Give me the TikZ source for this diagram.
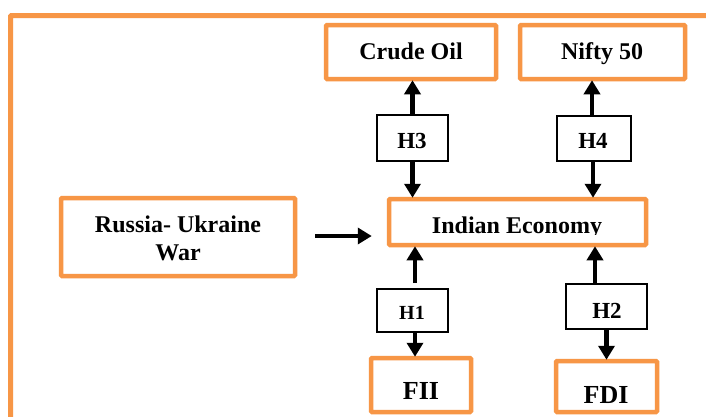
\documentclass[tikz,border=0pt]{standalone}
\usepackage{fontspec}
\setmainfont{Liberation Serif}
\usetikzlibrary{arrows.meta,calc}
\definecolor{orng}{HTML}{F79646}
\begin{document}
\begin{tikzpicture}[x=1pt,y=-1pt,
  obox/.style={draw=orng, line width=4.5pt, rectangle, inner sep=0pt, rounded corners=1pt},
  hbox/.style={draw=black, line width=1.6pt, rectangle, inner sep=0pt},
  lbl/.style={font=\bfseries\fontsize{24}{28}\selectfont, inner sep=0pt, anchor=base},
  hlbl/.style={font=\bfseries\fontsize{23}{27}\selectfont, inner sep=0pt, anchor=base},
  arr/.style={line width=4.5pt, -{Triangle[width=16pt,length=14pt]}}]
\useasboundingbox (0,0) rectangle (706,416);
\clip (0,0) rectangle (706,416);
\fill[white] (0,0) rectangle (706,416);
% outer frame
\draw[orng, line width=5pt, rounded corners=1pt] (10.5,440) -- (10.5,15.5) -- (730,15.5);
% boxes
\node[obox, minimum width=170pt, minimum height=54pt] (crude) at (411,52) {};
\node[obox, minimum width=165pt, minimum height=54pt] (nifty) at (602.5,52) {};
\node[hbox, minimum width=71pt, minimum height=46pt] (h3) at (412.5,138) {};
\node[hbox, minimum width=74pt, minimum height=45pt] (h4) at (594,138.5) {};
\node[obox, minimum width=257pt, minimum height=46pt] (ie) at (517.5,222) {};
\node[obox, minimum width=234pt, minimum height=78pt] (russia) at (178,237) {};
\node[hbox, minimum width=71pt, minimum height=43pt] (h1) at (412.5,310.5) {};
\node[hbox, minimum width=81pt, minimum height=45pt] (h2) at (606.5,306.5) {};
\node[obox, minimum width=100pt, minimum height=54pt] (fii) at (421,385) {};
\node[obox, minimum width=101pt, minimum height=51pt] (fdi) at (606.5,386.5) {};
% labels
\node[lbl] (crudeT) at (411,59) {Crude Oil};
\node[lbl] (niftyT) at (602,59) {Nifty 50};
\node[hlbl] (h3T) at (412,148) {H3};
\node[hlbl] (h4T) at (593,148) {H4};
\begin{scope}
\clip (395,200) rectangle (640,234.5);
\node[lbl] (ieT) at (517,233) {Indian Economy};
\end{scope}
\node[font=\bfseries\fontsize{24}{28}\selectfont, inner sep=0pt, align=center] (russiaT) at (178,238) {Russia- Ukraine\\War};
\node[font=\bfseries\fontsize{20}{24}\selectfont, inner sep=0pt, anchor=base] (h1T) at (412,319) {H1};
\node[hlbl] (h2T) at (607,318) {H2};
\node[font=\bfseries\fontsize{26}{30}\selectfont, inner sep=0pt, anchor=base] (fiiT) at (421,399) {FII};
\node[font=\bfseries\fontsize{26}{30}\selectfont, inner sep=0pt, anchor=base] (fdiT) at (606,403) {FDI};
% arrows
\draw[arr, shorten >=-1pt] (h3.north) -- (h3.north |- crude.south);
\draw[arr, shorten >=-1pt] ($(h4.north)+(-2,0)$) -- ($(h4.north |- nifty.south)+(-2,0)$);
\draw[arr, shorten >=-1pt] (h3.south) -- (h3.south |- ie.north);
\draw[arr, shorten >=-1pt] ($(h4.south)+(-1,0)$) -- ($(h4.south |- ie.north)+(-1,0)$);
\draw[arr, shorten >=-1pt] ($(h1.north)+(2.5,-5)$) -- ($(h1.north |- ie.south)+(2.5,0)$);
\draw[arr, shorten >=-1pt] ($(h2.north)+(-11.5,0)$) -- ($(h2.north |- ie.south)+(-11.5,0)$);
\draw[arr, shorten >=-1pt] ($(h1.south)+(2.5,0)$) -- ($(h1.south |- fii.north)+(2.5,0)$);
\draw[arr, shorten >=-1pt] (h2.south) -- (h2.south |- fdi.north);
\draw[arr, shorten <=18pt, shorten >=15pt] ($(russia.east)+(0,-1)$) -- ($(russia.east -| ie.west)+(0,-1)$);
\end{tikzpicture}
\end{document}
